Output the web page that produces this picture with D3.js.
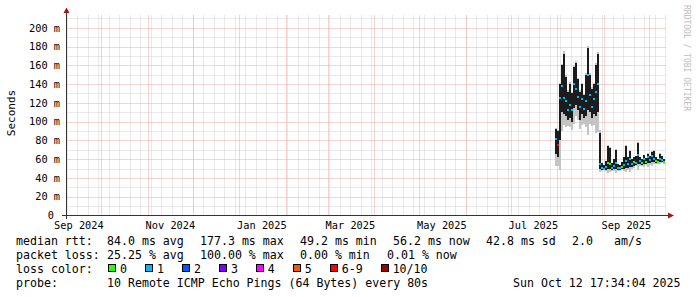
<!DOCTYPE html>
<html lang="en">
<head>
<meta charset="UTF-8">
<title>SmokePing - last 400 days</title>
<script src="https://cdn.jsdelivr.net/npm/d3@7"></script>
<style>
  body { margin: 0; background: #fff; }
  text { font-family: "DejaVu Sans Mono", monospace; fill: #000; }
  .grid-minor { stroke: #d2d2d2; stroke-dasharray: 1 1; }
  .grid-major { stroke: #eaa8a8; stroke-dasharray: 1 1; }
</style>
</head>
<body>
<svg width="697" height="297"></svg>
<script>
// time frame of the graph: last 400 days
const endTime = new Date(Date.UTC(2025, 9, 12, 17, 34, 4));
const startTime = new Date(endTime.getTime() - 400 * 864e5);

// samples (one every 32 h)
const sampleStart = new Date(Date.UTC(2025, 6, 30, 10, 0));
const sampleHours = 32;
const median = [82, 75, 125, 138, 125, 122, 112, 118, 112, 140, 135, 126, 116, 124, 114, 122, 150, 128, 116, 124, 132, 140,
                55, 51, 50, 52, 56, 55, 51, 53, 56, 51, 51, 52, 54, 58, 55, 60, 55, 57, 56, 64, 58, 56, 60, 57, 62, 59, 63, 60, 58, 57, 60, 59, 57];
const smokeLo = [65, 62, 80, 110, 108, 106, 102, 104, 100, 115, 118, 112, 102, 108, 104, 106, 112, 110, 104, 108, 106, 110,
                 50, 49, 49, 49, 50, 50, 49, 50, 50, 49, 49, 50, 50, 51, 51, 52, 52, 53, 54, 55, 55, 54, 55, 55, 56, 56, 57, 57, 56, 56, 57, 57, 56];
const smokeHi = [92, 90, 140, 160, 172, 148, 132, 140, 130, 158, 162, 145, 132, 140, 128, 150, 178, 150, 135, 140, 160, 172,
                 88, 56, 54, 58, 74, 72, 56, 60, 70, 55, 54, 57, 62, 74, 62, 69, 60, 62, 63, 77, 62, 60, 64, 61, 66, 63, 68, 69, 62, 60, 66, 63, 60];
const lostPings = [1, 6, 1, 1, 1, 1, 1, 1, 1, 1, 1, 1, 1, 1, 1, 1, 1, 1, 1, 1, 1, 1,
                   1, 1, 1, 1, 0, 0, 1, 1, 1, 1, 1, 0, 1, 1, 1, 1, 1, 0, 1, 1, 1, 0, 1, 0, 1, 1, 1, 1, 0, 0, 1, 1, 0];

// axis ticks
const yTicks = [0, 20, 40, 60, 80, 100, 120, 140, 160, 180, 200];
const yTickLabels = ["0", "20 m", "40 m", "60 m", "80 m", "100 m", "120 m", "140 m", "160 m", "180 m", "200 m"];
const xLabelMonths = [new Date(Date.UTC(2024, 8, 1)), new Date(Date.UTC(2024, 10, 1)), new Date(Date.UTC(2025, 0, 1)),
                      new Date(Date.UTC(2025, 2, 1)), new Date(Date.UTC(2025, 4, 1)), new Date(Date.UTC(2025, 6, 1)),
                      new Date(Date.UTC(2025, 8, 1))];
const xTickLabels = ["Sep 2024", "Nov 2024", "Jan 2025", "Mar 2025", "May 2025", "Jul 2025", "Sep 2025"];

// legend
const lossBins = ["0", "1", "2", "3", "4", "5", "6-9", "10/10"];
const lossColors = ["#26ff00", "#00b8ff", "#0059ff", "#7e00ff", "#ff00ff", "#ff5500", "#ff0000", "#a00000"];
const medianStats = ["84.0 ms avg", "177.3 ms max", "49.2 ms min", "56.2 ms now", "42.8 ms sd", "2.0", "am/s"];
const lossStats = ["25.25 % avg", "100.00 % max", "0.00 % min", "0.01 % now"];
const probeText = "10 Remote ICMP Echo Pings (64 Bytes) every 80s";
const stampText = "Sun Oct 12 17:34:04 2025";

const svg = d3.select("svg");
const plotL = 66.5, plotR = 666.5, plotB = 215.5, plotT = 15.5;

const x = d3.scaleUtc().domain([startTime, endTime]).range([plotL, plotR]);
const y = d3.scaleLinear().domain([0, 213.1]).range([plotB, plotT]);
const px = v => Math.round(v) + 0.5;

const samples = median.map((m, i) => ({
    t: new Date(sampleStart.getTime() + i * sampleHours * 36e5),
    t2: new Date(sampleStart.getTime() + (i + 1) * sampleHours * 36e5),
    med: m, lo: smokeLo[i], hi: smokeHi[i],
    bin: lostPings[i] >= 10 ? 7 : lostPings[i] >= 6 ? 6 : lostPings[i]
}));

// grid: minor every 10 m / every week, major every 20 m / every month
const grid = svg.append("g");
grid.selectAll("path.mx").data(d3.utcSunday.range(startTime, endTime)).join("path").attr("class", "grid-minor")
    .attr("d", d => `M${px(x(d))},${plotT}V${plotB}`);
grid.selectAll("path.my").data(d3.range(10, 213, 20)).join("path").attr("class", "grid-minor")
    .attr("d", d => `M${plotL},${px(y(d))}H${plotR}`);
grid.selectAll("path.Mx").data(d3.utcMonth.range(startTime, endTime)).join("path").attr("class", "grid-major")
    .attr("d", d => `M${px(x(d))},${plotT}V${plotB}`);
grid.selectAll("path.My").data(yTicks.slice(1)).join("path").attr("class", "grid-major")
    .attr("d", d => `M${plotL},${px(y(d))}H${plotR}`);

// smoke
const smoke = svg.append("g").attr("shape-rendering", "crispEdges");
smoke.selectAll("rect.tail").data(samples).join("rect")
    .attr("x", d => x(d.t)).attr("width", d => x(d.t2) - x(d.t))
    .attr("y", d => y(d.hi + (d.hi - d.med) * 0.08))
    .attr("height", d => y(d.lo - (d.med - d.lo) * 0.7) - y(d.hi + (d.hi - d.med) * 0.08))
    .attr("fill", "#c4c4c4");
smoke.selectAll("rect.core").data(samples).join("rect")
    .attr("x", d => x(d.t)).attr("width", d => x(d.t2) - x(d.t))
    .attr("y", d => y(d.hi)).attr("height", d => y(d.lo) - y(d.hi))
    .attr("fill", "#1c1c1c");

// median marks coloured by loss
svg.append("g").attr("shape-rendering", "crispEdges")
    .selectAll("rect").data(samples).join("rect")
    .attr("x", d => x(d.t)).attr("width", d => x(d.t2) - x(d.t))
    .attr("y", d => y(d.med) - 1).attr("height", 2)
    .attr("fill", d => lossColors[d.bin]);

// axes
const axisCol = "#333", arrowCol = "#9b1b1b";
svg.append("line").attr("x1", 62).attr("x2", 668).attr("y1", plotB).attr("y2", plotB)
    .attr("stroke", axisCol).attr("shape-rendering", "crispEdges");
svg.append("line").attr("x1", plotL).attr("x2", plotL).attr("y1", 219).attr("y2", 12)
    .attr("stroke", axisCol).attr("shape-rendering", "crispEdges");
svg.append("path").attr("d", `M${plotL - 3},13L${plotL},7.5L${plotL + 3},13Z`).attr("fill", arrowCol);
svg.append("path").attr("d", `M668,${plotB - 3}L674,${plotB}L668,${plotB + 3}Z`).attr("fill", arrowCol);

// y labels
svg.selectAll("text.yl").data(yTicks).join("text")
    .attr("x", d => d === 0 ? 54 : 60).attr("y", d => y(d))
    .attr("dy", "0.36em").attr("text-anchor", "end").style("font-size", "10.3px")
    .text((d, i) => yTickLabels[i]);

// x labels (centred mid-month, rrdtool style)
svg.selectAll("text.xl").data(xLabelMonths).join("text")
    .attr("x", d => x(d3.utcDay.offset(d, 15))).attr("y", 228.5)
    .attr("text-anchor", "middle").style("font-size", "10.3px")
    .text((d, i) => xTickLabels[i]);

svg.append("text").attr("transform", "translate(14.5,113) rotate(-90)")
    .attr("text-anchor", "middle").style("font-size", "11px").text("Seconds");

svg.append("text").attr("transform", "translate(684,5) rotate(90)")
    .style("font-size", "8px").style("fill", "#bdbdbd").text("RRDTOOL / TOBI OETIKER");

// legend
const lg = svg.append("g").style("font-size", "11.6px").attr("xml:space", "preserve");
const lineY = [244.5, 258.7, 272.9, 287.2];
const medX = [107, 200, 300, 393, 486, 572, 614];
const lossX = [107, 200, 300, 387];
lg.append("text").attr("x", 16).attr("y", lineY[0]).text("median rtt:");
lg.selectAll("text.ms").data(medianStats).join("text").attr("x", (d, i) => medX[i]).attr("y", lineY[0]).text(d => d);
lg.append("text").attr("x", 16).attr("y", lineY[1]).text("packet loss:");
lg.selectAll("text.ls").data(lossStats).join("text").attr("x", (d, i) => lossX[i]).attr("y", lineY[1]).text(d => d);
lg.append("text").attr("x", 16).attr("y", lineY[2]).text("loss color:");
let cx = 108;
lossBins.forEach((b, i) => {
    lg.append("rect").attr("x", cx + 0.5).attr("y", 264.5).attr("width", 7).attr("height", 7)
        .attr("fill", lossColors[i]).attr("stroke", "#000").attr("shape-rendering", "crispEdges");
    lg.append("text").attr("x", cx + 12).attr("y", lineY[2]).text(b);
    cx += 12 + b.length * 6.96 + 18;
});
lg.append("text").attr("x", 16).attr("y", lineY[3]).text("probe:");
lg.append("text").attr("x", 107).attr("y", lineY[3]).text(probeText);
lg.append("text").attr("x", 513).attr("y", lineY[3]).text(stampText);
</script>
</body>
</html>
